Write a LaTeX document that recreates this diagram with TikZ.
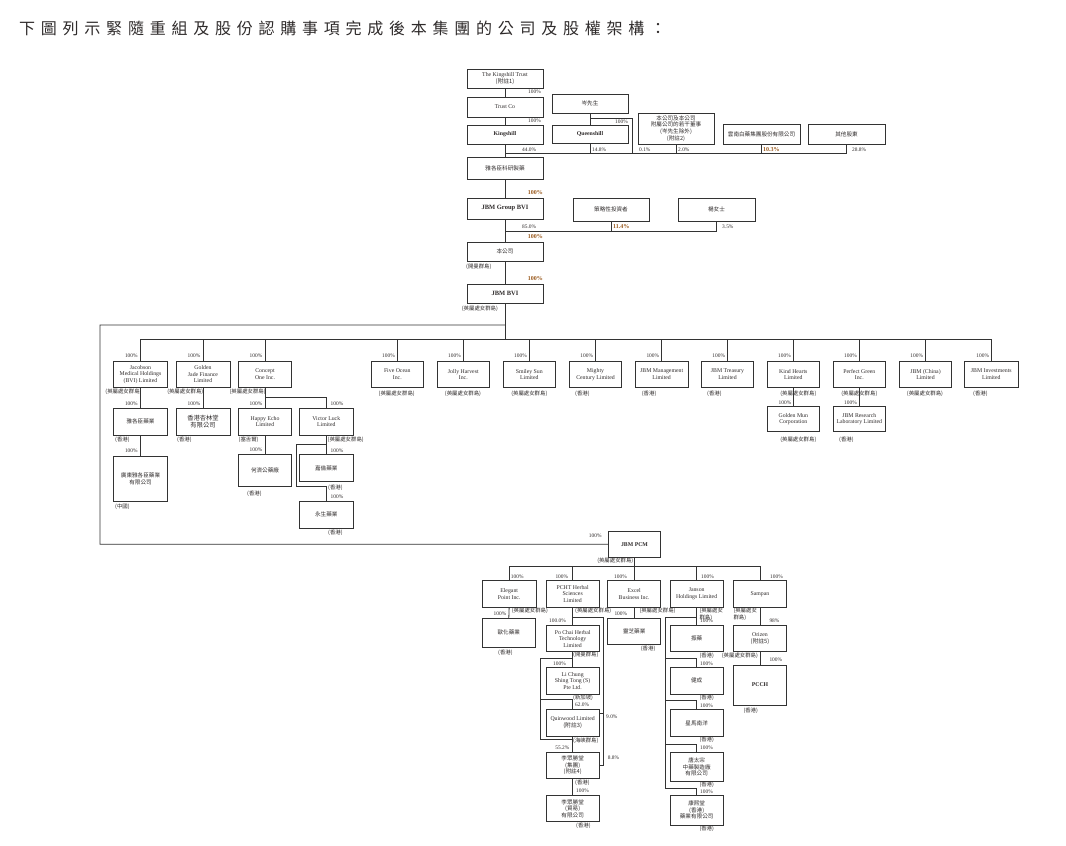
\documentclass[tikz,border=0pt]{standalone}
\usepackage{fontspec}
\setmainfont{Liberation Serif}
\newfontfamily\cjk{Noto Sans CJK TC}
\newfontfamily\cjktitle[LetterSpace=36]{Noto Sans CJK TC}
\definecolor{ink}{HTML}{2F2B2B}
\definecolor{brn}{HTML}{9A5A1E}
\definecolor{ln}{HTML}{333333}
\newcommand\zh[1]{{\cjk #1}}
\tikzset{
  bx/.style={draw=ln, line width=1pt, inner sep=0pt, align=center, text=ink,
    font=\fontsize{5.8}{6.6}\selectfont},
  cn/.style={font=\cjk\fontsize{5.6}{6.8}\selectfont},
  lab/.style={inner sep=0pt, text=ink, align=left, font=\fontsize{5.4}{5.4}\selectfont},
  hl/.style={text=brn, font=\fontsize{6}{6}\selectfont\bfseries},
  wire/.style={draw=ln, line width=0.8pt},
}
\newcommand\bx[7][]{\node[bx,#1, minimum width={(#5-#3)*1pt}, minimum height={(#6-#4)*1pt}] (#2) at ({(#3+#5)/2},{(#4+#6)/2}) {#7};}
\newcommand\lb[6][]{\node[lab,anchor=#3,#1] (#2) at (#4,#5) {#6};}
\begin{document}
\begin{tikzpicture}[x=1pt,y=-1pt]
\useasboundingbox (0,0) rectangle (1066,846);
\fill[white] (0,0) rectangle (1066,846);
% title
\node[anchor=west, inner sep=0pt, text=ink, font=\cjktitle\fontsize{16}{16}\selectfont] (title) at (19,28) {下圖列示緊隨重組及股份認購事項完成後本集團的公司及股權架構：};

% ---------- top ----------
\bx{trust}{467}{69}{543}{88}{The Kingshill Trust\\\zh{(附註1)}}
\bx{trustco}{467}{97}{543}{117}{Trust Co}
\bx{kingshill}{467}{125}{543}{144}{\textbf{Kingshill}}
\bx[cn]{jsr}{467}{157}{543}{179}{雅各臣科研製藥}
\bx[cn]{mrsum}{552}{94}{628}{113}{岑先生}
\bx{queenshill}{552}{125}{628}{143}{\textbf{Queenshill}}
\bx[cn]{directors}{638}{113}{714}{144}{本公司及本公司\\附屬公司的若干董事\\(岑先生除外)\\(附註2)}
\bx[cn]{yunnan}{723}{124}{800}{144}{雲南白藥集團股份有限公司}
\bx[cn]{others}{808}{124}{885}{144}{其他股東}

\draw[wire] (trust.south) -- (trustco.north);
\draw[wire] (trustco.south) -- (kingshill.north);
\draw[wire] (kingshill.south) -- (jsr.north);
\draw[wire] (kingshill.south |- 0,153.3) -- (others.south |- 0,153.3) -- (others.south);
\draw[wire] (queenshill.south) -- (queenshill.south |- 0,153.3);
\draw[wire] (directors.south) -- (directors.south |- 0,153.3);
\draw[wire] (yunnan.south) -- (yunnan.south |- 0,153.3);
\draw[wire] (mrsum.south) -- (queenshill.north);
\draw[wire] (mrsum.south |- 0,118.3) -| (632.7,153.3);

\lb{p1}{east}{541}{91.5}{100\%}
\lb{p2}{east}{541}{121}{100\%}
\lb{p3}{east}{628}{121.7}{100\%}
\lb{p4}{west}{522}{149.5}{44.0\%}
\lb{p5}{west}{592}{149.5}{14.8\%}
\lb{p6}{west}{639}{149.5}{0.1\%}
\lb{p7}{west}{678}{149.5}{2.0\%}
\lb[hl]{p8}{west}{763}{149.5}{10.3\%}
\lb{p9}{west}{852}{149.5}{28.8\%}

% ---------- middle ----------
\bx{jbmgroup}{467}{198}{543}{219}{\fontsize{6.5}{7}\selectfont\textbf{JBM Group BVI}}
\bx[cn]{strat}{573}{198}{649}{221}{策略性投資者}
\bx[cn]{msyeung}{678}{198}{755}{221}{楊女士}
\bx[cn]{company}{467}{242}{543}{261}{本公司}
\bx{jbmbvi}{467}{284}{543}{303}{\fontsize{6.5}{7}\selectfont\textbf{JBM BVI}}

\draw[wire] (jsr.south) -- (jbmgroup.north);
\draw[wire] (jbmgroup.south) -- (company.north);
\draw[wire] (jbmgroup.south |- 0,231) -| (msyeung.south);
\draw[wire] (strat.south) -- (strat.south |- 0,231);
\draw[wire] (company.south) -- (jbmbvi.north);

\lb[hl]{q1}{east}{543}{193}{100\%}
\lb{q2}{west}{522}{226.7}{85.0\%}
\lb[hl]{q3}{west}{613}{226.7}{11.4\%}
\lb{q4}{west}{722}{226.7}{3.5\%}
\lb[hl]{q5}{east}{543}{237}{100\%}
\lb{q6}{west}{466}{266.7}{\zh{(開曼群島)}}
\lb[hl]{q7}{east}{543}{278.5}{100\%}
\lb{q8}{west}{461.7}{309}{\zh{(英屬處女群島)}}

% ---------- JBM BVI subsidiaries ----------
\bx{jacobson}{113.3}{361}{167.7}{387.7}{Jacobson\\Medical Holdings\\(BVI) Limited}
\bx{goldenjade}{176}{361}{230}{387.7}{Golden\\Jade Finance\\Limited}
\bx{conceptone}{238.3}{361}{291.7}{387.7}{Concept\\One Inc.}
\bx{fiveocean}{371.3}{361}{423.3}{387.7}{Five Ocean\\Inc.}
\bx{jolly}{437.3}{361}{489.3}{387.7}{Jolly Harvest\\Inc.}
\bx{smiley}{503.3}{361}{555.3}{387.7}{Smiley Sun\\Limited}
\bx{mighty}{569.3}{361}{621.7}{387.7}{Mighty\\Century Limited}
\bx{jbmmgmt}{635}{361}{688.3}{387.7}{JBM Management\\Limited}
\bx{jbmtreas}{701.7}{361}{753.3}{387.7}{JBM Treasury\\Limited}
\bx{kindhearts}{767.3}{361}{819.3}{387.7}{Kind Hearts\\Limited}
\bx{perfectgreen}{833.3}{361}{885.3}{387.7}{Perfect Green\\Inc.}
\bx{jbmchina}{899.3}{361}{951.7}{387.7}{JBM (China)\\Limited}
\bx{jbminv}{964.3}{361}{1018.3}{387.7}{JBM Investments\\Limited}

\draw[wire] (jbmbvi.south) -- (jbmbvi.south |- 0,339.3);
\draw[wire] (jacobson.north |- 0,339.3) -- (jbminv.north |- 0,339.3);
\foreach \n in {jacobson,goldenjade,conceptone,fiveocean,jolly,smiley,mighty,jbmmgmt,jbmtreas,kindhearts,perfectgreen,jbmchina,jbminv}
  {\draw[wire] (\n.north) -- (\n.north |- 0,339.3);}

\lb{r1}{east}{137.8}{356}{100\%}
\lb{r2}{east}{200.5}{356}{100\%}
\lb{r3}{east}{262.5}{356}{100\%}
\lb{r4}{east}{395}{356}{100\%}
\lb{r5}{east}{461}{356}{100\%}
\lb{r6}{east}{527}{356}{100\%}
\lb{r7}{east}{593.2}{356}{100\%}
\lb{r8}{east}{659.3}{356}{100\%}
\lb{r9}{east}{725.2}{356}{100\%}
\lb{r10}{east}{791}{356}{100\%}
\lb{r11}{east}{857}{356}{100\%}
\lb{r12}{east}{923.2}{356}{100\%}
\lb{r13}{east}{989.2}{356}{100\%}

\lb{s1}{east}{141.7}{391.7}{\zh{(英屬處女群島)}}
\lb{s2}{east}{203.5}{391.7}{\zh{(英屬處女群島)}}
\lb{s3}{east}{265.9}{391.7}{\zh{(英屬處女群島)}}
\lb{s4}{center}{396.7}{393.3}{\zh{(英屬處女群島)}}
\lb{s5}{center}{463}{393.3}{\zh{(英屬處女群島)}}
\lb{s6}{center}{529.3}{393.3}{\zh{(英屬處女群島)}}
\lb{s7}{west}{575}{393.3}{\zh{(香港)}}
\lb{s8}{west}{641.7}{393.3}{\zh{(香港)}}
\lb{s9}{west}{707}{393.3}{\zh{(香港)}}
\lb{s10}{center}{798.3}{393.3}{\zh{(英屬處女群島)}}
\lb{s11}{center}{859.3}{393.3}{\zh{(英屬處女群島)}}
\lb{s12}{center}{925}{393.3}{\zh{(英屬處女群島)}}
\lb{s13}{west}{973}{393.3}{\zh{(香港)}}

% second tier left
\bx[cn]{yagezhen}{113.3}{408.3}{167.7}{435}{雅各臣藥業}
\bx[cn]{guangdong}{113.3}{456}{167.7}{501.7}{廣東雅各臣藥業\\有限公司}
\bx[cn,font=\cjk\fontsize{6.3}{7.4}\selectfont]{xinglin}{176}{408.3}{230}{435}{香港杏林堂\\有限公司}
\bx{happyecho}{238.3}{408.3}{291.7}{435}{Happy Echo\\Limited}
\bx{victorluck}{299.3}{408.3}{353.3}{435}{Victor Luck\\Limited}
\bx[cn]{hejigong}{238.3}{454.3}{291.7}{486.7}{何濟公藥廠}
\bx[cn]{jialun}{299.3}{454.3}{353.3}{481.7}{嘉倫藥業}
\bx[cn]{yongsheng}{299.3}{501}{353.3}{528.3}{永生藥業}

\draw[wire] (jacobson.south) -- (yagezhen.north);
\draw[wire] (yagezhen.south) -- (guangdong.north);
\draw[wire] (goldenjade.south) -- (xinglin.north);
\draw[wire] (conceptone.south) -- (happyecho.north);
\draw[wire] (conceptone.south |- 0,397.7) -| (victorluck.north);
\draw[wire] (happyecho.south) -- (hejigong.north);
\draw[wire] (victorluck.south) -- (jialun.north);
\draw[wire] (victorluck.south |- 0,444.3) -| (296.7,486) -| (yongsheng.north);

\lb{t1}{east}{137.8}{403.3}{100\%}
\lb{t2}{west}{115}{439.3}{\zh{(香港)}}
\lb{t3}{east}{137.8}{451}{100\%}
\lb{t4}{west}{115}{506.7}{\zh{(中國)}}
\lb{t5}{east}{200.5}{403.3}{100\%}
\lb{t6}{west}{177}{439.3}{\zh{(香港)}}
\lb{t7}{east}{262.5}{403.3}{100\%}
\lb{t8}{west}{238.5}{439.3}{\zh{(塞舌爾)}}
\lb{t9}{west}{330.5}{403.3}{100\%}
\lb{t10}{west}{327.5}{439.3}{\zh{(英屬處女群島)}}
\lb{t11}{east}{262.5}{450}{100\%}
\lb{t12}{west}{247}{494}{\zh{(香港)}}
\lb{t13}{west}{330.5}{450.5}{100\%}
\lb{t14}{west}{328}{487.3}{\zh{(香港)}}
\lb{t15}{west}{330.5}{496.7}{100\%}
\lb{t16}{west}{328}{532.3}{\zh{(香港)}}

% second tier right
\bx{goldenmun}{767.3}{406.7}{819.3}{431.7}{Golden Mun\\Corporation}
\bx{jbmresearch}{833.3}{406.7}{885.3}{431.7}{JBM Research\\Laboratory Limited}
\draw[wire] (kindhearts.south) -- (goldenmun.north);
\draw[wire] (perfectgreen.south) -- (jbmresearch.north);
\lb{u1}{east}{791.5}{402.3}{100\%}
\lb{u2}{east}{857}{402.3}{100\%}
\lb{u3}{center}{798.3}{440}{\zh{(英屬處女群島)}}
\lb{u4}{west}{839}{440}{\zh{(香港)}}

% ---------- JBM PCM ----------
\bx{jbmpcm}{608.3}{531}{660.7}{557.5}{\textbf{JBM PCM}}
\draw[wire] (jbmbvi.south |- 0,325) -| (100,544.3) -- (jbmpcm.west);
\lb{v1}{east}{601.7}{535.7}{100\%}
\lb{v2}{east}{633.5}{560.7}{\zh{(英屬處女群島)}}

\bx{elegant}{482.3}{580.7}{536}{607.3}{Elegant\\Point Inc.}
\bx{pcht}{546}{580.7}{599.3}{607.3}{PCHT Herbal\\Sciences\\Limited}
\bx{excel}{607.7}{580.7}{660.7}{607.3}{Excel\\Business Inc.}
\bx{janson}{670}{580.7}{723.3}{607.3}{Janson\\Holdings Limited}
\bx{sampan}{733.3}{580.7}{786.7}{607.3}{Sampan}

\draw[wire] (jbmpcm.south) -- (jbmpcm.south |- 0,566);
\draw[wire] (elegant.north |- 0,566) -- (sampan.north |- 0,566);
\foreach \n in {elegant,pcht,excel,janson,sampan}
  {\draw[wire] (\n.north) -- (\n.north |- 0,566);}

\lb{w1}{west}{510.7}{576.7}{100\%}
\lb{w2}{east}{568.3}{576.7}{100\%}
\lb{w3}{east}{627}{576.7}{100\%}
\lb{w4}{west}{701}{576.7}{100\%}
\lb{w5}{west}{770}{576.7}{100\%}
\lb{w6}{west}{511.7}{610.7}{\zh{(英屬處女群島)}}
\lb{w7}{west}{575}{610.7}{\zh{(英屬處女群島)}}
\lb{w8}{west}{639.3}{610.7}{\zh{(英屬處女群島)}}
\node[lab, anchor=north west, font=\cjk\fontsize{5.4}{5.4}\selectfont] (w9) at (699.3,608) {(英屬處女\\群島)};
\node[lab, anchor=north west, font=\cjk\fontsize{5.4}{5.4}\selectfont] (w10) at (733.3,608) {(英屬處女\\群島)};

% Elegant Point
\bx[cn]{ouhua}{482.3}{618.3}{535.3}{647.3}{歐化藥業}
\draw[wire] (elegant.south) -- (ouhua.north);
\lb{x1}{east}{506.5}{614}{100\%}
\lb{x2}{west}{498}{652.7}{\zh{(香港)}}

% PCHT chain
\bx{pochai}{546}{625.7}{599.3}{651.7}{Po Chai Herbal\\Technology\\Limited}
\bx{lichung}{546}{667.3}{599.3}{694}{Li Chung\\Shing Tong (S)\\Pte Ltd.}
\bx{quinwood}{546}{709.3}{599.3}{736}{Quinwood Limited\\\zh{(附註3)}}
\bx[cn]{lzsta}{546}{752.3}{599.3}{778.3}{李眾勝堂\\(集團)\\(附註4)}
\bx[cn]{lzstb}{546}{795.7}{599.3}{821.7}{李眾勝堂\\(貿易)\\有限公司}

\draw[wire] (pcht.south) -- (pochai.north);
\draw[wire] (pcht.south |- 0,617.3) -| (603.3,765) -- (lzsta.east |- 0,765);
\draw[wire] (603.3,713.3) -- (quinwood.east |- 0,713.3);
\draw[wire] (pochai.south) -- (lichung.north);
\draw[wire] (pochai.south |- 0,658.3) -| (540.7,739.3) -| (lzsta.north);
\draw[wire] (540.7,699) -| (quinwood.north);
\draw[wire] (quinwood.south) -- (lzsta.north);
\draw[wire] (lzsta.south) -- (lzstb.north);

\lb{y1}{east}{566}{620.7}{100.0\%}
\lb{y2}{west}{573}{655.2}{\zh{(開曼群島)}}
\lb{y3}{east}{566}{664}{100\%}
\lb{y4}{west}{573}{697.7}{\zh{(新加坡)}}
\lb{y5}{west}{575}{705.2}{62.0\%}
\lb{y6}{west}{573}{740.7}{\zh{(海峽群島)}}
\lb{y7}{west}{606}{716.7}{9.0\%}
\lb{y8}{west}{607.7}{757.3}{8.8\%}
\lb{y9}{east}{569.5}{747.7}{55.2\%}
\lb{y10}{west}{575}{782.7}{\zh{(香港)}}
\lb{y11}{west}{576}{790.7}{100\%}
\lb{y12}{west}{576}{825.5}{\zh{(香港)}}

% Excel
\bx[cn]{lingzhi}{607.7}{618.3}{660.7}{644}{靈芝藥業}
\draw[wire] (excel.south) -- (lingzhi.north);
\lb{z1}{east}{627.3}{614}{100\%}
\lb{z2}{west}{640.7}{648.3}{\zh{(香港)}}

% Janson
\bx[cn]{zhenyao}{670}{625}{723.3}{651.7}{振藥}
\bx[cn]{jiancheng}{670}{667.3}{723.3}{694}{健成}
\bx[cn]{xingma}{670}{709.8}{723.3}{736.3}{星馬南洋}
\bx[cn]{tangtaizong}{670}{752.3}{723.3}{781.7}{唐太宗\\中藥製造廠\\有限公司}
\bx[cn]{kangxi}{670}{795}{723.3}{825}{康熙堂\\(香港)\\藥業有限公司}

\draw[wire] (janson.south) -- (zhenyao.north);
\draw[wire] (janson.south |- 0,617.3) -| (665.7,788.3) -| (kangxi.north);
\draw[wire] (665.7,658.3) -| (jiancheng.north);
\draw[wire] (665.7,700) -| (xingma.north);
\draw[wire] (665.7,744.3) -| (tangtaizong.north);

\lb{a1}{west}{700}{620.7}{100\%}
\lb{a2}{west}{699.3}{655.7}{\zh{(香港)}}
\lb{a3}{west}{700}{663.3}{100\%}
\lb{a4}{west}{699.3}{697.7}{\zh{(香港)}}
\lb{a5}{west}{700}{705.7}{100\%}
\lb{a6}{west}{699.3}{739.8}{\zh{(香港)}}
\lb{a7}{west}{700}{747.7}{100\%}
\lb{a8}{west}{699.3}{785}{\zh{(香港)}}
\lb{a9}{west}{700}{791.7}{100\%}
\lb{a10}{west}{699.3}{829}{\zh{(香港)}}

% Sampan
\bx{orizen}{733.3}{625}{786.7}{651.7}{Orizen\\\zh{(附註5)}}
\bx{pcch}{733.3}{665}{786.7}{705}{\textbf{PCCH}}
\draw[wire] (sampan.south) -- (orizen.north);
\draw[wire] (orizen.south) -- (pcch.north);
\lb{b1}{west}{769.3}{620.3}{98\%}
\lb{b2}{west}{721.7}{655.7}{\zh{(英屬處女群島)}}
\lb{b3}{west}{769.3}{660}{100\%}
\lb{b4}{west}{743.3}{710.7}{\zh{(香港)}}
\end{tikzpicture}
\end{document}
